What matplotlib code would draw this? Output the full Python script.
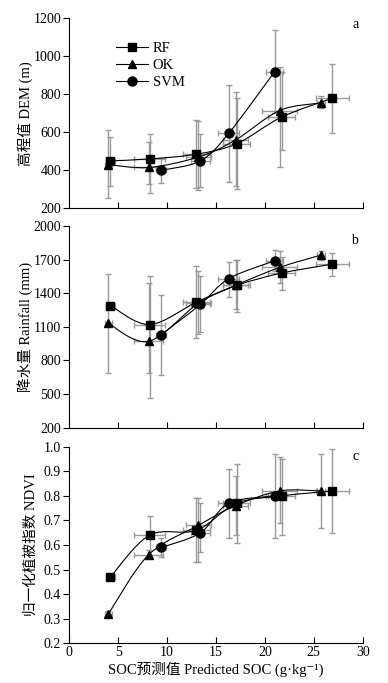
import numpy as np
import matplotlib
matplotlib.use("Agg")
import matplotlib.pyplot as plt
from matplotlib.path import Path
from matplotlib.patches import PathPatch
from matplotlib.lines import Line2D

plt.rcParams['font.family'] = ['Liberation Serif', 'Noto Sans CJK SC', 'DejaVu Sans']

# predicted SOC (x) per class, shared by all panels
rf_x = [4.2, 8.2, 13.0, 17.1, 21.7, 26.9]
ok_x = [4.0, 8.1, 13.2, 17.0, 21.5, 25.7]
svm_x = [9.4, 13.4, 16.3, 21.0]
rf_xerr = [0.5, 1.6, 1.4, 1.4, 1.4, 1.7]
ok_xerr = [0.4, 1.5, 1.3, 1.3, 1.8, 0.4]
svm_xerr = [0.5, 1.0, 1.1, 0.9]

# a: DEM
dem_rf = [450, 460, 485, 540, 680, 780]
dem_rf_lo = [318, 280, 305, 300, 505, 595]
dem_rf_hi = [575, 590, 665, 780, 920, 960]
dem_ok = [430, 415, 470, 560, 715, 755]
dem_ok_lo = [255, 330, 295, 320, 415, 730]
dem_ok_hi = [610, 550, 660, 810, 945, 790]
dem_svm = [400, 450, 595, 920]
dem_svm_lo = [335, 310, 340, 700]
dem_svm_hi = [465, 590, 850, 1140]

# b: rainfall
rain_rf = [1290, 1120, 1320, 1470, 1580, 1660]
rain_rf_lo = [1270, 460, 1000, 1230, 1430, 1550]
rain_rf_hi = [1310, 1550, 1640, 1700, 1720, 1760]
rain_ok = [1130, 970, 1310, 1470, 1630, 1740]
rain_ok_lo = [690, 690, 1040, 1260, 1490, 1700]
rain_ok_hi = [1575, 1490, 1600, 1700, 1780, 1780]
rain_svm = [1030, 1300, 1530, 1690]
rain_svm_lo = [670, 1050, 1370, 1600]
rain_svm_hi = [1380, 1550, 1680, 1790]

# c: NDVI
ndvi_rf = [0.47, 0.64, 0.66, 0.77, 0.80, 0.82]
ndvi_rf_lo = [0.46, 0.56, 0.53, 0.61, 0.64, 0.65]
ndvi_rf_hi = [0.48, 0.72, 0.79, 0.93, 0.95, 0.99]
ndvi_ok = [0.32, 0.56, 0.68, 0.76, 0.82, 0.82]
ndvi_ok_lo = [0.31, 0.55, 0.53, 0.64, 0.69, 0.67]
ndvi_ok_hi = [0.33, 0.58, 0.79, 0.88, 0.96, 0.97]
ndvi_svm = [0.59, 0.65, 0.77, 0.80]
ndvi_svm_lo = [0.55, 0.57, 0.63, 0.63]
ndvi_svm_hi = [0.63, 0.77, 0.91, 0.97]


def smooth_path(x, y):
    # Catmull-Rom through the points, drawn as cubic Bezier segments
    pts = np.column_stack([np.asarray(x, float), np.asarray(y, float)])
    verts = [pts[0]]
    codes = [Path.MOVETO]
    n = len(pts)
    for i in range(n - 1):
        p0 = pts[i - 1] if i > 0 else pts[i]
        p1, p2 = pts[i], pts[i + 1]
        p3 = pts[i + 2] if i + 2 < n else pts[i + 1]
        verts += [p1 + (p2 - p0) / 6.0, p2 - (p3 - p1) / 6.0, p2]
        codes += [Path.CURVE4] * 3
    return Path(verts, codes)


def draw(ax, x, xerr, y, lo, hi, marker, ms):
    y = np.asarray(y, float)
    yerr = [y - np.asarray(lo), np.asarray(hi) - y]
    ax.errorbar(x, y, xerr=xerr, yerr=yerr, fmt='none', ecolor='#9a9a9a',
                elinewidth=1.0, capsize=2.5, capthick=1.0, zorder=1)
    ax.add_patch(PathPatch(smooth_path(x, y), fill=False, edgecolor='black',
                           lw=0.8, zorder=2))
    ax.plot(x, y, linestyle='none', marker=marker, color='black', ms=ms, zorder=3)


fig = plt.figure(figsize=(3.88, 6.83), dpi=100)
left, width = 0.1787, 0.756
ax_a = fig.add_axes([left, 0.695, width, 0.278])
ax_b = fig.add_axes([left, 0.374, width, 0.295])
ax_c = fig.add_axes([left, 0.058, width, 0.288])

panels = [
    (ax_a, (dem_rf, dem_rf_lo, dem_rf_hi), (dem_ok, dem_ok_lo, dem_ok_hi),
     (dem_svm, dem_svm_lo, dem_svm_hi), (200, 1200), np.arange(200, 1201, 200),
     '高程值 DEM (m)', 'a', 0.97, -0.125),
    (ax_b, (rain_rf, rain_rf_lo, rain_rf_hi), (rain_ok, rain_ok_lo, rain_ok_hi),
     (rain_svm, rain_svm_lo, rain_svm_hi), (200, 2000), np.arange(200, 2001, 300),
     '降水量 Rainfall (mm)', 'b', 0.93, -0.125),
    (ax_c, (ndvi_rf, ndvi_rf_lo, ndvi_rf_hi), (ndvi_ok, ndvi_ok_lo, ndvi_ok_hi),
     (ndvi_svm, ndvi_svm_lo, ndvi_svm_hi), (0.2, 1.0), np.arange(0.2, 1.01, 0.1),
     '归一化植被指数 NDVI', 'c', 0.95, -0.108),
]

for ax, rf, ok, svm, ylim, yticks, ylabel, letter, ly, lx in panels:
    draw(ax, rf_x, rf_xerr, *rf, 's', 6)
    draw(ax, ok_x, ok_xerr, *ok, '^', 6)
    draw(ax, svm_x, svm_xerr, *svm, 'o', 6.5)
    ax.set_xlim(0, 30)
    ax.set_ylim(*ylim)
    ax.set_xticks(np.arange(0, 31, 5))
    ax.set_yticks(yticks)
    if ax is ax_c:
        ax.set_yticklabels(['%.1f' % v for v in yticks])
    ax.spines['top'].set_visible(False)
    ax.spines['right'].set_visible(False)
    ax.tick_params(axis='y', direction='out', length=4, labelsize=10, pad=2)
    ax.tick_params(axis='x', direction='in', length=4, labelsize=10, pad=2)
    ax.set_ylabel(ylabel, fontsize=10.5)
    ax.yaxis.set_label_coords(lx, 0.5)
    ax.text(0.985, ly, letter, transform=ax.transAxes, ha='right', va='center',
            fontsize=10)
    if ax is not ax_c:
        ax.tick_params(axis='x', labelbottom=False)

ax_c.set_xlabel('SOC预测值 Predicted SOC (g·kg⁻¹)', fontsize=10.5, labelpad=2)

handles = [Line2D([], [], color='black', lw=0.8, marker=m, ms=s)
           for m, s in (('s', 6), ('^', 6), ('o', 6.5))]
ax_a.legend(handles, ['RF', 'OK', 'SVM'], loc='upper left',
            bbox_to_anchor=(0.115, 0.945), frameon=False, fontsize=10.5,
            handlelength=2.2, handletextpad=0.3, labelspacing=0.25)

fig.savefig('out.png', dpi=100)
